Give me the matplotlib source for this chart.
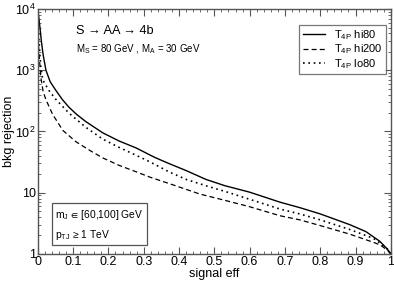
import numpy as np
import matplotlib.pyplot as plt
from matplotlib.patches import Rectangle
from matplotlib.ticker import MultipleLocator, LogLocator, NullFormatter

plt.rcParams['font.family'] = ['Liberation Sans', 'DejaVu Sans']
plt.rcParams['mathtext.fontset'] = 'custom'
plt.rcParams['mathtext.rm'] = 'Liberation Sans'
plt.rcParams['mathtext.it'] = 'Liberation Sans'
plt.rcParams['mathtext.fallback'] = 'stixsans'

# signal eff vs bkg rejection
eff_hi80 = [0.002, 0.006, 0.01, 0.015, 0.023, 0.035, 0.051, 0.07, 0.088, 0.11, 0.136, 0.184,
            0.23, 0.278, 0.33, 0.371, 0.42, 0.476, 0.53, 0.6, 0.686, 0.742, 0.8, 0.884,
            0.93, 0.969, 0.99, 1.0]
rej_hi80 = [8000, 5000, 3000, 1800, 1000, 650, 470, 330, 250, 190, 145, 95,
            70, 54, 38, 30, 23, 16.5, 13, 10.2, 7.0, 5.7, 4.5, 3.0,
            2.3, 1.6, 1.2, 1.0]

eff_hi200 = [0.002, 0.008, 0.015, 0.023, 0.042, 0.071, 0.108, 0.15, 0.184, 0.23, 0.278,
             0.317, 0.39, 0.459, 0.53, 0.6, 0.686, 0.742, 0.8, 0.884, 0.95, 0.97, 0.99, 1.0]
rej_hi200 = [2500, 800, 450, 330, 190, 104, 68, 48, 37, 28, 22,
             18, 13, 9.5, 7.5, 5.9, 4.2, 3.6, 2.9, 2.1, 1.55, 1.4, 1.15, 1.0]

eff_lo80 = [0.002, 0.008, 0.014, 0.03, 0.05, 0.088, 0.136, 0.184, 0.23, 0.278, 0.317, 0.371,
            0.42, 0.476, 0.53, 0.6, 0.686, 0.742, 0.8, 0.884, 0.95, 0.97, 0.99, 1.0]
rej_lo80 = [4000, 1200, 700, 480, 340, 200, 117, 75, 55, 41, 32, 22,
            16.5, 13, 10.5, 7.8, 5.4, 4.5, 3.6, 2.5, 1.8, 1.5, 1.2, 1.0]

fig = plt.figure(figsize=(3.94, 2.84), dpi=100)
ax = fig.add_axes([0.096, 0.106, 0.896, 0.862])

ax.plot(eff_hi80, rej_hi80, color='black', lw=1.0, ls='-', label=r'T$_{4P}$ hi80')
ax.plot(eff_hi200, rej_hi200, color='black', lw=0.9, ls=(0, (4, 2.5)), label=r'T$_{4P}$ hi200')
ax.plot(eff_lo80, rej_lo80, color='black', lw=1.2, ls=(0, (1, 2.2)), label=r'T$_{4P}$ lo80')

ax.set_yscale('log')
ax.set_xlim(0, 1)
ax.set_ylim(1, 1e4)

ax.set_xticks([0, 0.1, 0.2, 0.3, 0.4, 0.5, 0.6, 0.7, 0.8, 0.9, 1])
ax.set_xticklabels(['0', '0.1', '0.2', '0.3', '0.4', '0.5', '0.6', '0.7', '0.8', '0.9', '1'])
ax.xaxis.set_minor_locator(MultipleLocator(0.02))
ax.set_yticks([1, 10, 100, 1000, 10000])
ax.set_yticklabels(['1', '10', r'10$^2$', r'10$^3$', r'10$^4$'])
ax.yaxis.set_minor_locator(LogLocator(base=10, subs=np.arange(2, 10)))
ax.yaxis.set_minor_formatter(NullFormatter())

ax.tick_params(which='both', direction='in', top=True, right=True, colors='#555555',
               labelcolor='black', labelsize=9, pad=1.5)
ax.tick_params(which='major', length=5, width=0.8)
ax.tick_params(which='minor', length=2.5, width=0.6)
for s in ax.spines.values():
    s.set_color('#555555')
    s.set_linewidth(1.0)

ax.set_xlabel('signal eff', fontsize=9, labelpad=0)
ax.set_ylabel('bkg rejection', fontsize=9, labelpad=0)

ax.text(0.107, 0.9, 'S → AA → 4b', transform=ax.transAxes, fontsize=9.2)
ax.text(0.107, 0.825, r'M$_\mathrm{S}$ = 80 GeV , M$_\mathrm{A}$ = 30 GeV', transform=ax.transAxes, fontsize=7)

# cut box, bottom left
ax.add_patch(Rectangle((0.04, 0.037), 0.27, 0.171, transform=ax.transAxes, fc='white',
                       ec='#555555', lw=0.9, zorder=4))
ax.text(0.05, 0.157, 'm$_\\mathrm{J}\\,\\in\\,$[60,100] GeV', transform=ax.transAxes,
        fontsize=7.4, va='center', zorder=5)
ax.text(0.05, 0.078, 'p$_\\mathrm{TJ}\\,\\geq\\,$1 TeV', transform=ax.transAxes,
        fontsize=7.4, va='center', zorder=5)

leg = ax.legend(loc='upper right', bbox_to_anchor=(0.985, 0.935), fontsize=8, frameon=True,
                fancybox=False, edgecolor='#555555', handlelength=2.0, borderpad=0.3,
                labelspacing=0.05, handletextpad=0.8, borderaxespad=0)
leg.get_frame().set_linewidth(0.9)

fig.savefig('out.png', dpi=100)
